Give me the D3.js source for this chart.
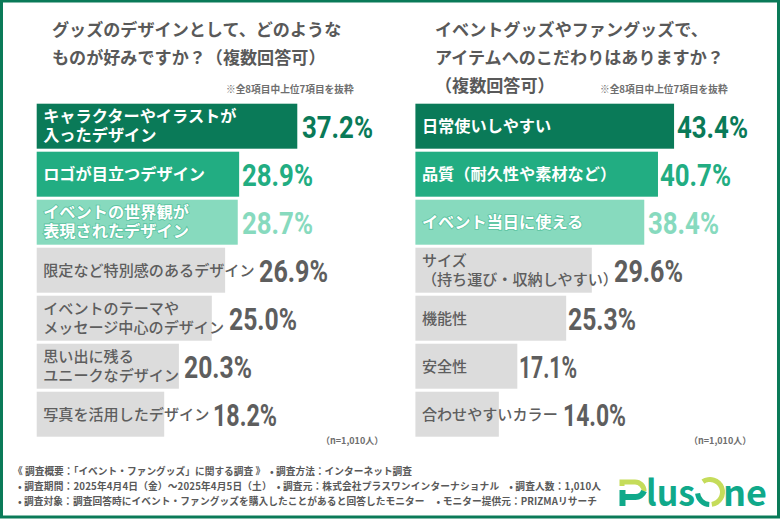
<!DOCTYPE html>
<html>
<head>
<meta charset="utf-8">
<script src="https://cdn.jsdelivr.net/npm/d3@7"></script>
<style>
  html, body { margin: 0; padding: 0; background: #fff; }
  text { font-family: "Noto Sans CJK JP", sans-serif; }
  .pct { font-family: "Roboto", sans-serif; font-weight: 700; }
</style>
</head>
<body>
<svg id="chart" width="780" height="519"></svg>
<script>
const leftLabels = [
  ["キャラクターやイラストが", "入ったデザイン"],
  ["ロゴが目立つデザイン"],
  ["イベントの世界観が", "表現されたデザイン"],
  ["限定など特別感のあるデザイン"],
  ["イベントのテーマや", "メッセージ中心のデザイン"],
  ["思い出に残る", "ユニークなデザイン"],
  ["写真を活用したデザイン"]
];
const leftValues = [37.2, 28.9, 28.7, 26.9, 25.0, 20.3, 18.2];
const rightLabels = [
  ["日常使いしやすい"],
  ["品質（耐久性や素材など）"],
  ["イベント当日に使える"],
  ["サイズ", "（持ち運び・収納しやすい）"],
  ["機能性"],
  ["安全性"],
  ["合わせやすいカラー"]
];
const rightValues = [43.4, 40.7, 38.4, 29.6, 25.3, 17.1, 14.0];
const leftTitle = ["グッズのデザインとして、どのような", "ものが好みですか？（複数回答可）"];
const rightTitle = ["イベントグッズやファングッズで、", "アイテムへのこだわりはありますか？", "（複数回答可）"];
const footLines = [
  "《 調査概要：「イベント・ファングッズ」に関する調査 》　• 調査方法：インターネット調査",
  "• 調査期間：2025年4月4日（金）～2025年4月5日（土）　• 調査元：株式会社プラスワンインターナショナル　• 調査人数：1,010人",
  "• 調査対象：調査回答時にイベント・ファングッズを購入したことがあると回答したモニター　 • モニター提供元：PRIZMAリサーチ"
];

const green = "#0a7a58", grey = "#5e5e5e", teal = "#10a98a", lime = "#c5dc5a";
const barFill = [green, "#22ad82", "#87dabe", "#dcdcdc", "#dcdcdc", "#dcdcdc", "#dcdcdc"];
const valFill = [green, "#22ad82", "#87dabe", grey, grey, grey, grey];
const txtFill = ["#fff", "#fff", "#fff", grey, grey, grey, grey];

const svg = d3.select("#chart");

// frame
svg.append("rect").attr("x", 1.5).attr("y", 1).attr("width", 777).attr("height", 516)
  .attr("fill", "none").attr("stroke", green).attr("stroke-width", 3);

function drawPanel(cfg) {
  const g = svg.append("g");
  const x = d3.scaleLinear().domain([0, 100]).range([cfg.x0, cfg.x0 + cfg.perPct * 100]);
  const y = d3.scaleBand().domain(d3.range(cfg.values.length)).range([103.7, 436.7]).paddingInner(0.0625);

  g.selectAll("text.title").data(cfg.title).enter().append("text")
    .attr("class", "title")
    .attr("x", cfg.titleX)
    .attr("y", (d, i) => 36 + i * 28)
    .attr("font-size", 17.1).attr("font-weight", 700).attr("fill", "#595959")
    .text(d => d);

  g.append("text").attr("x", cfg.noteX).attr("y", 93)
    .attr("font-size", 9.7).attr("font-weight", 700).attr("fill", "#6e6e6e")
    .text("※全8項目中上位7項目を抜粋");

  g.selectAll("rect.bar").data(cfg.values).enter().append("rect")
    .attr("class", "bar")
    .attr("x", x(0)).attr("y", (d, i) => y(i))
    .attr("width", d => x(d) - x(0)).attr("height", y.bandwidth())
    .attr("fill", (d, i) => barFill[i]);

  cfg.labels.forEach((lines, i) => {
    const cy = y(i) + y.bandwidth() / 2;
    const label = g.append("text")
      .attr("font-size", i < 3 ? 16.2 : 15.1)
      .attr("font-weight", i < 3 ? 700 : 500)
      .attr("fill", txtFill[i]);
    if (i === 2) {
      // light bar gets a darker halo behind the white text
      label.attr("stroke", "#5cc4a2").attr("stroke-width", 1.6).attr("paint-order", "stroke");
    }
    lines.forEach((line, j) => {
      label.append("tspan")
        .attr("x", x(0) + 6.5)
        .attr("y", cy + (j - (lines.length - 1) / 2) * 19 + 5.5)
        .text(line);
    });
  });

  g.selectAll("text.pct").data(cfg.values).enter().append("text")
    .attr("class", "pct")
    .attr("x", (d, i) => cfg.valX[i])
    .attr("y", (d, i) => y(i) + y.bandwidth() / 2 + 11.7)
    .attr("font-size", 32).attr("fill", (d, i) => valFill[i])
    .attr("textLength", (d, i) => cfg.valW[i]).attr("lengthAdjust", "spacingAndGlyphs")
    .text(d => d.toFixed(1) + "%");

  g.append("text").attr("x", cfg.nX).attr("y", 444)
    .attr("font-size", 9).attr("font-weight", 700).attr("fill", "#6e6e6e")
    .text("（n=1,010人）");
}

drawPanel({
  x0: 36.7, perPct: 7.005, values: leftValues, labels: leftLabels, title: leftTitle,
  titleX: 52, noteX: 226, nX: 321,
  valX: [302, 242, 242, 259, 229, 184, 213],
  valW: [71, 71, 71, 69, 68, 68, 64]
});
drawPanel({
  x0: 415.4, perPct: 5.96, values: rightValues, labels: rightLabels, title: rightTitle,
  titleX: 435, noteX: 600, nX: 689,
  valX: [677, 660, 648, 614, 568, 519, 563],
  valW: [71, 71, 71, 69, 68, 58, 63]
});

// footnotes
const footW = [399, 583, 579];
svg.selectAll("text.foot").data(footLines).enter().append("text")
  .attr("class", "foot")
  .attr("x", (d, i) => i === 0 ? 13 : 18)
  .attr("y", (d, i) => 474.5 + i * 15.4)
  .attr("font-size", 9.7).attr("font-weight", 700).attr("fill", "#595959")
  .attr("textLength", (d, i) => footW[i]).attr("lengthAdjust", "spacing")
  .text(d => d);

// logo
const logo = svg.append("g").attr("fill", "none");
logo.append("path").attr("d", "M622,486 V482 H635 A9,9 0 0 1 644,491")
  .attr("stroke", lime).attr("stroke-width", 5);
logo.append("path").attr("d", "M622.5,490 V506 M622,497 H635 A9,9 0 0 0 644,491")
  .attr("stroke", teal).attr("stroke-width", 6);
logo.append("text").attr("x", 646).attr("y", 506)
  .attr("font-family", "Roboto").attr("font-size", 35).attr("font-weight", 700).attr("fill", teal)
  .attr("textLength", 49).attr("lengthAdjust", "spacingAndGlyphs")
  .text("lus");
const ring = d3.arc().innerRadius(10).outerRadius(15);
logo.append("path").attr("transform", "translate(710,492)")
  .attr("fill", lime).attr("d", ring({ startAngle: -0.6, endAngle: 3.0 }));
logo.append("path").attr("transform", "translate(710,492)")
  .attr("fill", teal).attr("d", ring({ startAngle: 3.2, endAngle: 4.6 }));
logo.append("text").attr("x", 723).attr("y", 506)
  .attr("font-family", "Roboto").attr("font-size", 35).attr("font-weight", 700).attr("fill", teal)
  .attr("textLength", 44).attr("lengthAdjust", "spacingAndGlyphs")
  .text("ne");
</script>
</body>
</html>
